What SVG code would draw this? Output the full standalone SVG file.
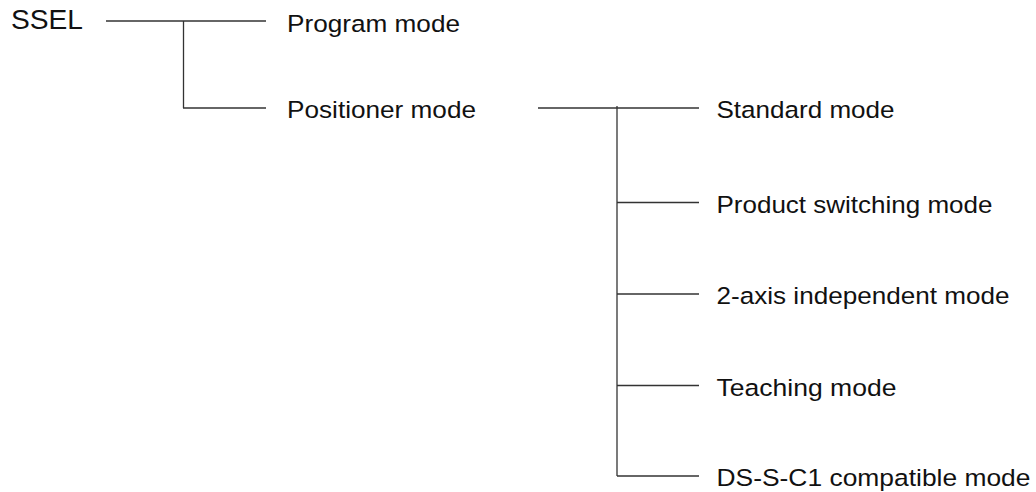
<svg xmlns="http://www.w3.org/2000/svg" width="1036" height="492" viewBox="0 0 1036 492">
<style>
text{font-family:"Liberation Sans",Arial,sans-serif;fill:#111;}
.lbl{font-size:24.5px;}
.root{font-size:28px;}
.c line{stroke:#333;stroke-width:1.3;fill:none;}
</style>
<rect width="1036" height="492" fill="#fff"/>
<g id="connectors" class="c">
<line x1="106" y1="21" x2="266" y2="21"/>
<line x1="183.5" y1="21" x2="183.5" y2="108"/>
<line x1="183" y1="108" x2="266" y2="108"/>
<line x1="538" y1="108" x2="699" y2="108"/>
<line x1="617" y1="106" x2="617" y2="476"/>
<line x1="617" y1="202.5" x2="699" y2="202.5"/>
<line x1="617" y1="294" x2="699" y2="294"/>
<line x1="617" y1="385.5" x2="699" y2="385.5"/>
<line x1="617" y1="476" x2="699" y2="476"/>
</g>
<g id="ssel"><text class="root" x="11" y="28.5" textLength="72" lengthAdjust="spacingAndGlyphs">SSEL</text></g>
<g id="program"><text class="lbl" x="287" y="31.5" textLength="173" lengthAdjust="spacingAndGlyphs">Program mode</text></g>
<g id="positioner"><text class="lbl" x="287" y="117.5" textLength="189" lengthAdjust="spacingAndGlyphs">Positioner mode</text></g>
<g id="standard"><text class="lbl" x="716.5" y="118" textLength="178" lengthAdjust="spacingAndGlyphs">Standard mode</text></g>
<g id="product"><text class="lbl" x="716.5" y="213" textLength="276" lengthAdjust="spacingAndGlyphs">Product switching mode</text></g>
<g id="twoaxis"><text class="lbl" x="716.5" y="304" textLength="293" lengthAdjust="spacingAndGlyphs">2-axis independent mode</text></g>
<g id="teaching"><text class="lbl" x="716.5" y="395.5" textLength="180" lengthAdjust="spacingAndGlyphs">Teaching mode</text></g>
<g id="dssc1"><text class="lbl" x="716.5" y="486" textLength="314" lengthAdjust="spacingAndGlyphs">DS-S-C1 compatible mode</text></g>
</svg>
